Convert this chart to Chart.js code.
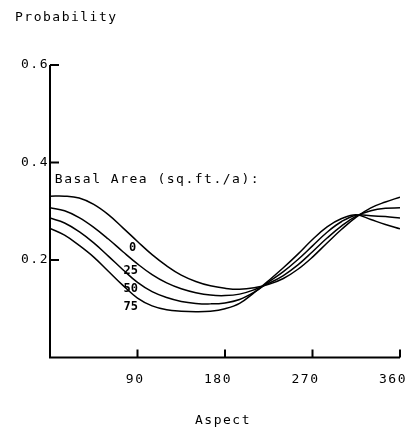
<!DOCTYPE html>
<html>
<head>
<meta charset="utf-8">
<script src="https://cdn.jsdelivr.net/npm/chart.js@4/dist/chart.umd.min.js"></script>
<style>
  html, body { margin: 0; padding: 0; background: #fff; }
  canvas { display: block; }
</style>
</head>
<body>
<canvas id="c" width="412" height="428"></canvas>
<script>
// Aspect in degrees (x) and probability for each basal-area class
const aspects = [0, 15, 30, 45, 60, 75, 90, 105, 120, 135, 150, 165, 180,
                 195, 210, 225, 240, 255, 270, 285, 300, 315, 330, 345, 360];
const ba0  = [0.331, 0.331, 0.327, 0.314, 0.293, 0.266, 0.238, 0.211, 0.188, 0.169, 0.156, 0.147, 0.142,
              0.140, 0.143, 0.150, 0.162, 0.181, 0.206, 0.235, 0.263, 0.288, 0.307, 0.319, 0.329];
const ba25 = [0.307, 0.301, 0.287, 0.267, 0.243, 0.217, 0.192, 0.170, 0.153, 0.141, 0.133, 0.128, 0.127,
              0.130, 0.139, 0.152, 0.168, 0.190, 0.217, 0.245, 0.270, 0.290, 0.301, 0.306, 0.307];
const ba50 = [0.286, 0.276, 0.258, 0.235, 0.208, 0.180, 0.154, 0.135, 0.123, 0.115, 0.111, 0.110, 0.112,
              0.119, 0.134, 0.155, 0.176, 0.201, 0.229, 0.257, 0.279, 0.292, 0.291, 0.289, 0.286];
const ba75 = [0.265, 0.251, 0.230, 0.206, 0.177, 0.148, 0.122, 0.106, 0.098, 0.095, 0.094, 0.095, 0.100,
              0.111, 0.133, 0.158, 0.184, 0.212, 0.242, 0.268, 0.285, 0.293, 0.283, 0.273, 0.264];
const basalAreaLabels = ['0', '25', '50', '75'];
const xTicks = [90, 180, 270, 360];
const yTicks = [0.2, 0.4, 0.6];

const MONO = '"DejaVu Sans Mono", "Liberation Mono", monospace';
const series = [ba0, ba25, ba50, ba75];

const datasets = series.map((vals, i) => ({
  label: basalAreaLabels[i],
  data: aspects.map((a, k) => ({ x: a, y: vals[k] })),
  borderColor: '#000',
  borderWidth: 1.5,
  pointRadius: 0,
  fill: false,
  tension: 0.4
}));

// Axes, inward tick marks and free text
const decor = {
  id: 'decor',
  beforeDraw(chart) {
    chart.ctx.letterSpacing = '1.5px';
  },
  afterDraw(chart, args, opts) {
    const { ctx, chartArea: a, scales: { x, y } } = chart;
    ctx.save();
    ctx.strokeStyle = '#000';
    ctx.lineWidth = 2;
    ctx.beginPath();
    ctx.moveTo(a.left, a.top);
    ctx.lineTo(a.left, a.bottom);
    ctx.lineTo(a.right, a.bottom);
    yTicks.forEach(v => {
      const py = y.getPixelForValue(v);
      ctx.moveTo(a.left, py);
      ctx.lineTo(a.left + 9, py);
    });
    xTicks.forEach(v => {
      const px = x.getPixelForValue(v);
      ctx.moveTo(px, a.bottom);
      ctx.lineTo(px, a.bottom - 8);
    });
    ctx.stroke();

    ctx.fillStyle = '#000';
    ctx.letterSpacing = '1.5px';
    ctx.font = '13px ' + MONO;
    ctx.textBaseline = 'alphabetic';
    ctx.textAlign = 'left';
    ctx.fillText('Probability', 15, 21);
    ctx.textAlign = 'center';
    ctx.fillText('Aspect', (a.left + a.right) / 2 - 2, 424);
    ctx.textAlign = 'left';
    ctx.fillText('Basal Area (sq.ft./a):', x.getPixelForValue(opts.key.x), y.getPixelForValue(opts.key.y));

    ctx.font = 'bold 12px ' + MONO;
    ctx.letterSpacing = '0px';
    ctx.textAlign = 'center';
    ctx.textBaseline = 'middle';
    opts.tags.forEach((t, i) => {
      ctx.fillText(basalAreaLabels[i], x.getPixelForValue(t.x), y.getPixelForValue(t.y));
    });
    ctx.restore();
  }
};

new Chart(document.getElementById('c'), {
  type: 'line',
  data: { datasets },
  plugins: [decor],
  options: {
    responsive: false,
    animation: false,
    events: [],
    layout: { padding: { top: 65, right: 12, left: 0, bottom: 0 } },
    plugins: {
      legend: { display: false },
      tooltip: { enabled: false },
      decor: {
        key: { x: 5, y: 0.357 },
        tags: [
          { x: 85, y: 0.225 },
          { x: 83, y: 0.178 },
          { x: 83, y: 0.1405 },
          { x: 83, y: 0.103 }
        ]
      }
    },
    scales: {
      x: {
        type: 'linear',
        min: 0,
        max: 360,
        grid: { display: false, drawTicks: false },
        border: { display: false },
        ticks: {
          stepSize: 90,
          autoSkip: false,
          maxRotation: 0,
          align: 'end',
          labelOffset: 7,
          padding: 14,
          color: '#000',
          font: { family: MONO, size: 13 },
          callback: v => (xTicks.includes(v) ? String(v) : '')
        },
        afterFit: s => { s.height = 70.5; s.paddingLeft = 0; s.paddingRight = 0; }
      },
      y: {
        min: 0,
        max: 0.6,
        grid: { display: false, drawTicks: false },
        border: { display: false },
        ticks: {
          stepSize: 0.2,
          padding: 1,
          color: '#000',
          font: { family: MONO, size: 13 },
          callback: v => {
            const r = Math.round(v * 10) / 10;
            return yTicks.some(t => Math.abs(t - r) < 1e-9) ? r.toFixed(1) : '';
          }
        },
        afterFit: s => { s.width = 50; s.paddingTop = 0; s.paddingBottom = 0; }
      }
    }
  }
});
</script>
</body>
</html>
